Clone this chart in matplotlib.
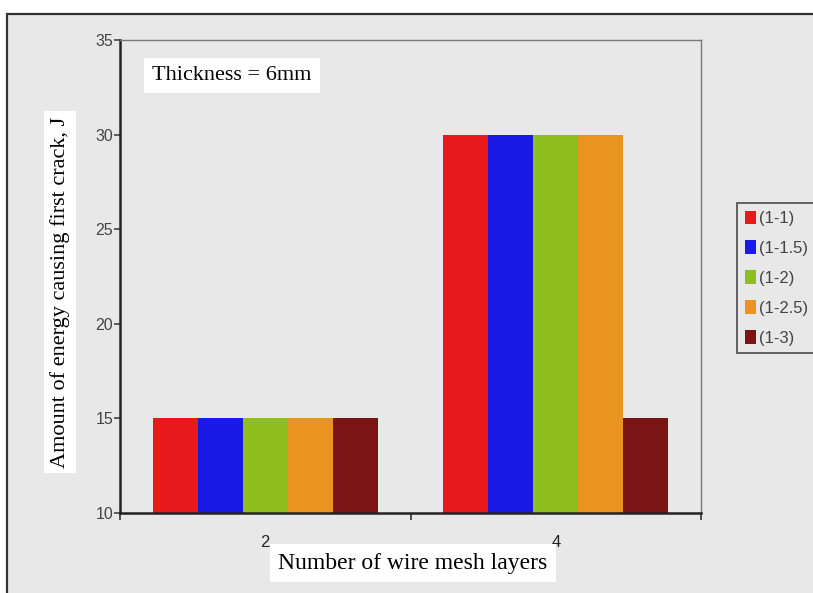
import matplotlib.pyplot as plt
import matplotlib.patches as mpatches
import numpy as np

layers = ["2", "4"]
series = ["(1-1)", "(1-1.5)", "(1-2)", "(1-2.5)", "(1-3)"]
values = [
    [15, 30],
    [15, 30],
    [15, 30],
    [15, 30],
    [15, 15],
]
colors = ["#e8191b", "#1a1ae6", "#8fbf1f", "#e8941f", "#7b1515"]
BG = "#e8e8e8"

fig = plt.figure(figsize=(8.13, 5.93), dpi=100, facecolor="white")

# outer grey chart frame
frame = mpatches.Rectangle((7 / 813, -0.02), 1.02, 0.02 + 1 - 14 / 593,
                           transform=fig.transFigure, facecolor=BG,
                           edgecolor="#333333", linewidth=1.6, zorder=-5)
fig.patches.append(frame)

ax = fig.add_axes([120 / 813, 1 - 513 / 593, (701 - 120) / 813, (513 - 40) / 593])
ax.set_zorder(2)
ax.set_facecolor(BG)

x = np.arange(len(layers))
w = 0.155
for i, (name, vals) in enumerate(zip(series, values)):
    ax.bar(x + (i - 2) * w, np.array(vals) - 10, w, bottom=10,
           color=colors[i], label=name, zorder=2)

ax.set_xlim(-0.5, 1.5)
ax.set_ylim(10, 35)
ax.set_yticks(np.arange(10, 36, 5))
ax.tick_params(axis="y", labelsize=11.5, colors="#444444", length=4, width=1.2, pad=1)
for lab in ax.get_yticklabels():
    lab.set_family("Liberation Sans")

ax.set_xticks([-0.5, 0.5, 1.5])
ax.set_xticklabels([])
ax.tick_params(axis="x", which="major", length=5, width=1.2, color="#333333")
ax.set_xticks(x, minor=True)
ax.set_xticklabels(layers, minor=True, fontsize=12, family="Liberation Sans",
                   color="#222222")
ax.tick_params(axis="x", which="minor", length=0, pad=16)

for s in ["left", "bottom"]:
    ax.spines[s].set_linewidth(1.8)
    ax.spines[s].set_color("#222222")
for s in ["top", "right"]:
    ax.spines[s].set_linewidth(1.0)
    ax.spines[s].set_color("#777777")

ax.text(0.055, 0.925, "Thickness = 6mm", transform=ax.transAxes,
        fontsize=16, family="Liberation Serif", va="center", ha="left",
        bbox=dict(facecolor="white", edgecolor="none", pad=6))

fig.text(60 / 813, 1 - 292 / 593, "Amount of energy causing first crack, J",
         rotation=90, fontsize=16, family="Liberation Serif", ha="center",
         va="center", bbox=dict(facecolor="white", edgecolor="none", pad=4))
fig.text(413 / 813, 1 - 563 / 593, "Number of wire mesh layers",
         fontsize=17, family="Liberation Serif", ha="center", va="center",
         bbox=dict(facecolor="white", edgecolor="none", pad=6))

leg = fig.legend(loc="upper left", bbox_to_anchor=(737 / 813, 1 - 203 / 593),
                 frameon=True, fancybox=False, handlelength=0.7,
                 handleheight=0.9, handletextpad=0.15, labelspacing=0.85,
                 borderpad=0.45, borderaxespad=0,
                 prop={"family": "Liberation Sans", "size": 12})
leg.get_frame().set_edgecolor("#222222")
leg.get_frame().set_linewidth(1.2)
leg.get_frame().set_facecolor(BG)
for t in leg.get_texts():
    t.set_color("#444444")

fig.savefig("out.png", dpi=100)
